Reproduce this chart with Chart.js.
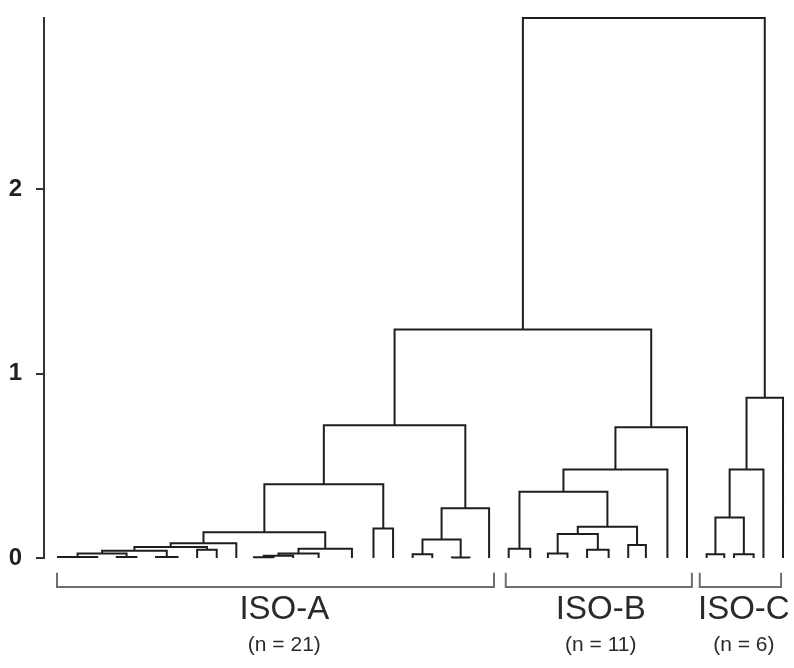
<!DOCTYPE html>
<html>
<head>
<meta charset="utf-8">
<script src="https://cdn.jsdelivr.net/npm/chart.js@4"></script>
<style>
  body { margin: 0; background: #fff; }
  #wrap { width: 794px; height: 668px; }
</style>
</head>
<body>
<div id="wrap"><canvas id="chart1"></canvas></div>
<script>
// leaf positions along the x axis (leaf slots)
const leafPos = [
  0, 2, 3, 4, 5, 6.1, 7.1, 8.1, 9.1, 10, 11, 12, 13.3, 15, 16.1, 17.1, 18.1, 19.1, 20.1, 21, 22, // ISO-A
  23, 24.1, 25, 26, 27, 28.1, 29.1, 30, 31.1, 32.1, // ISO-B
  33.1, 34, 34.5, 35.5, 36, 37, // ISO-C
];

// merges: [left node, right node, height]; leaves are 0..36, merge k is node 37 + k
const merges = [
  [0, 1, 0.005], [2, 3, 0.005], [37, 38, 0.025], [4, 5, 0.005], [39, 40, 0.04],
  [6, 7, 0.045], [41, 42, 0.06], [43, 8, 0.08], [9, 10, 0.004], [45, 11, 0.012],
  [46, 12, 0.025], [47, 13, 0.05], [44, 48, 0.14], [14, 15, 0.16], [49, 50, 0.4],
  [16, 17, 0.02], [18, 19, 0.003], [52, 53, 0.1], [54, 20, 0.27], [51, 55, 0.72],
  [21, 22, 0.05], [23, 24, 0.025], [25, 26, 0.045], [58, 59, 0.13], [27, 28, 0.07],
  [60, 61, 0.17], [57, 62, 0.36], [63, 29, 0.48], [64, 30, 0.71],
  [31, 32, 0.02], [33, 34, 0.02], [66, 67, 0.22], [68, 35, 0.48], [69, 36, 0.87],
  [56, 65, 1.24], [71, 70, 2.93],
];

const yTicks = [0, 1, 2];

const groupNames = ["ISO-A", "ISO-B", "ISO-C"];
const groupCounts = ["(n = 21)", "(n = 11)", "(n = 6)"];
const groupFrom = [-0.05, 22.85, 32.75];
const groupTo = [22.25, 32.35, 36.9];
const groupLabelAt = [11.55, 27.7, 35.0];

function treeSegments() {
  const nodeX = leafPos.slice();
  const nodeH = leafPos.map(() => 0);
  const pts = [];
  merges.forEach(([a, b, h]) => {
    pts.push(
      { x: nodeX[a], y: nodeH[a] },
      { x: nodeX[a], y: h },
      { x: nodeX[b], y: h },
      { x: nodeX[b], y: nodeH[b] },
      { x: nodeX[b], y: null }
    );
    nodeX.push((nodeX[a] + nodeX[b]) / 2);
    nodeH.push(h);
  });
  return pts;
}

// brackets sit just under the zero line
const bracketTop = -0.08;
const bracketBottom = -0.158;

function bracketSegments() {
  const pts = [];
  groupNames.forEach((g, i) => {
    pts.push(
      { x: groupFrom[i], y: bracketTop },
      { x: groupFrom[i], y: bracketBottom },
      { x: groupTo[i], y: bracketBottom },
      { x: groupTo[i], y: bracketTop },
      { x: groupTo[i], y: null }
    );
  });
  return pts;
}

const groupLabels = {
  id: "groupLabels",
  afterDraw(chart) {
    const ctx = chart.ctx;
    const x = chart.scales.x;
    const bottom = chart.chartArea.bottom;
    ctx.save();
    ctx.fillStyle = "#2a2a2a";
    ctx.textAlign = "center";
    ctx.textBaseline = "middle";
    groupNames.forEach((g, i) => {
      const px = x.getPixelForValue(groupLabelAt[i]);
      ctx.font = "33px 'Liberation Sans', Arial, sans-serif";
      ctx.fillText(g, px, bottom + 52);
      ctx.font = "21px 'Liberation Sans', Arial, sans-serif";
      ctx.fillText(groupCounts[i], px, bottom + 87);
    });
    ctx.restore();
  },
};

const maxH = Math.max(...merges.map((m) => m[2]));

var ctx = document.getElementById("chart1").getContext("2d");
var myChart = new Chart(ctx, {
  type: "scatter",
  data: {
    datasets: [
      {
        data: treeSegments(),
        showLine: true,
        borderColor: "#1e1e1e",
        borderWidth: 2,
        pointRadius: 0,
        clip: false,
      },
      {
        data: bracketSegments(),
        showLine: true,
        borderColor: "#6e6e6e",
        borderWidth: 2,
        pointRadius: 0,
        clip: false,
      },
    ],
  },
  options: {
    responsive: true,
    maintainAspectRatio: false,
    animation: false,
    layout: { padding: { top: 18, bottom: 110, left: 0, right: 0 } },
    plugins: {
      legend: { display: false },
      tooltip: { enabled: false },
    },
    scales: {
      x: {
        type: "linear",
        display: false,
        min: -0.7145,
        max: 37.56,
      },
      y: {
        min: 0,
        max: maxH,
        afterBuildTicks: (axis) => {
          axis.ticks = yTicks.map((v) => ({ value: v }));
        },
        afterFit: (axis) => {
          axis.width = 44;
          axis.paddingTop = 0;
          axis.paddingBottom = 0;
        },
        border: { display: true, color: "#333", width: 2 },
        grid: {
          drawOnChartArea: false,
          drawTicks: true,
          tickLength: 8,
          color: "#333",
          lineWidth: 2,
        },
        ticks: {
          color: "#222",
          padding: 14,
          font: { family: "'Liberation Sans', Arial, sans-serif", size: 24, weight: "bold" },
        },
      },
    },
  },
  plugins: [groupLabels],
});
</script>
</body>
</html>
